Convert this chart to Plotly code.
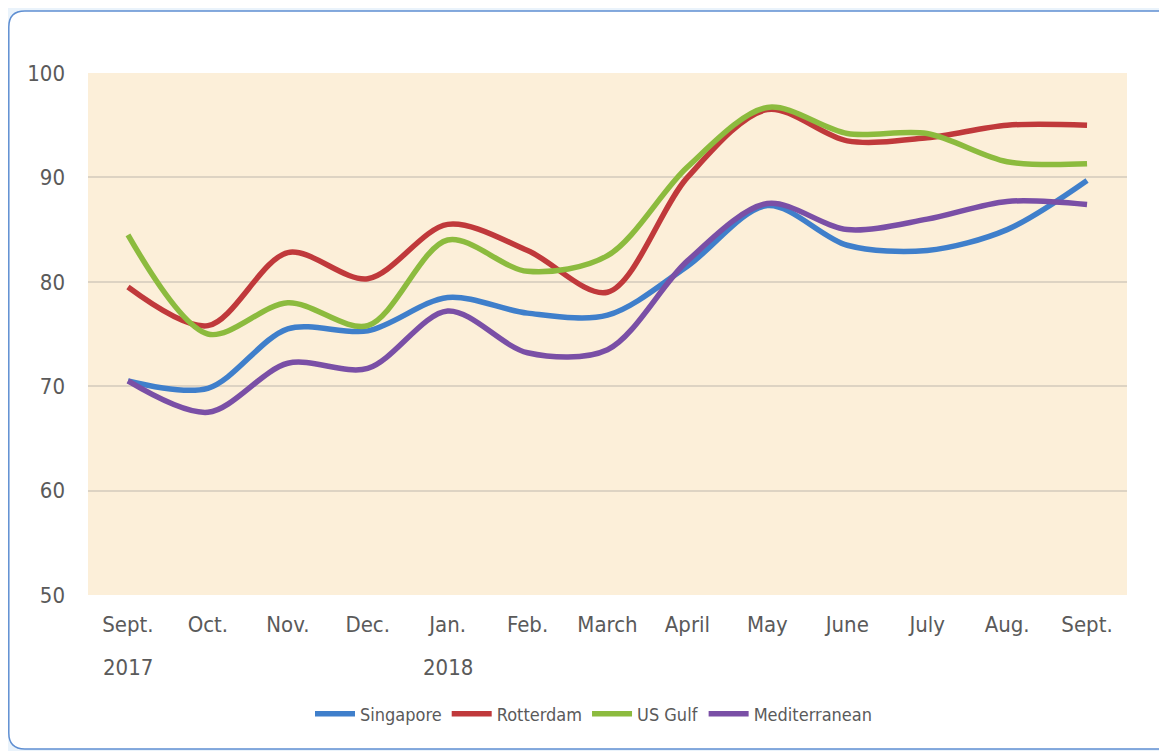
import plotly.graph_objects as go

months = ["Sept. 2017", "Oct.", "Nov.", "Dec.", "Jan. 2018", "Feb.", "March",
          "April", "May", "June", "July", "Aug.", "Sept. 2018"]
tick_text = ["Sept.", "Oct.", "Nov.", "Dec.", "Jan.", "Feb.", "March",
             "April", "May", "June", "July", "Aug.", "Sept."]
year_labels = [("Sept. 2017", "2017"), ("Jan. 2018", "2018")]

singapore = [70.5, 69.8, 75.5, 75.3, 78.5, 77.0, 76.8, 81.5, 87.3, 83.5, 83.0, 85.0, 89.7]
rotterdam = [79.5, 75.8, 82.8, 80.3, 85.5, 83.0, 79.0, 90.0, 96.5, 93.5, 93.8, 95.0, 95.0]
us_gulf = [84.5, 75.0, 78.0, 75.8, 84.0, 81.0, 82.5, 91.0, 96.7, 94.2, 94.2, 91.5, 91.3]
mediterranean = [70.5, 67.5, 72.2, 71.7, 77.2, 73.2, 73.5, 82.0, 87.5, 85.0, 86.0, 87.7, 87.4]

series = [
    ("Singapore", singapore, "#3F7FCB"),
    ("Rotterdam", rotterdam, "#C0393B"),
    ("US Gulf", us_gulf, "#8CBB3E"),
    ("Mediterranean", mediterranean, "#7A4FA6"),
]

FONT = "DejaVu Sans Condensed, Liberation Sans Narrow, Arial Narrow, sans-serif"
TXT = "#5A5A5A"

# page is offset by the 8px body margin
OFF = 8
W, H = 1167 - OFF, 751 - OFF
L, T = 88 - OFF, 73 - OFF
R = W - (1127 - OFF)
B = H - (595 - OFF)
pw, ph = W - L - R, H - T - B

def px(x):
    return (x - OFF - L) / pw

def py(y):
    return (H - B - (y - OFF)) / ph

fig = go.Figure()
for name, vals, col in series:
    fig.add_trace(go.Scatter(
        x=months, y=vals, name=name, mode="lines",
        line=dict(color=col, width=5.5, shape="spline", smoothing=0.9),
    ))

# rounded white panel
r = 16
x0, y0, x1, y1 = 8.8, 11, 1190, 749
path = (f"M {px(x0)},{py(y0 + r)} "
        f"Q {px(x0)},{py(y0)} {px(x0 + r)},{py(y0)} "
        f"L {px(x1)},{py(y0)} L {px(x1)},{py(y1)} "
        f"L {px(x0 + r)},{py(y1)} "
        f"Q {px(x0)},{py(y1)} {px(x0)},{py(y1 - r)} Z")

annotations = [
    dict(x=cat, y=py(667), xref="x", yref="paper", text=yr, showarrow=False,
         font=dict(family=FONT, size=22, color=TXT), xanchor="center", yanchor="middle")
    for cat, yr in year_labels
]

fig.update_layout(
    width=W, height=H,
    margin=dict(l=L, r=R, t=T, b=B),
    paper_bgcolor="#EAF3FB",
    plot_bgcolor="rgba(0,0,0,0)",
    font=dict(family=FONT, color=TXT, size=22),
    shapes=[
        dict(type="path", xref="paper", yref="paper", path=path,
             fillcolor="white", line=dict(color="#5F8FD2", width=1.5), layer="below"),
        dict(type="rect", xref="paper", yref="paper", x0=0, x1=1, y0=0, y1=1,
             fillcolor="#FCEFD9", line=dict(width=0), layer="below"),
    ],
    annotations=annotations,
    xaxis=dict(
        type="category", range=[-0.5, 12.5], showgrid=False, zeroline=False,
        showline=False, ticks="", tickvals=months, ticktext=tick_text,
        tickfont=dict(family=FONT, size=22, color=TXT), ticklabelstandoff=14,
        fixedrange=True,
    ),
    yaxis=dict(
        range=[50, 100], dtick=10, showgrid=True, gridcolor="#DDD3C3", gridwidth=1.5,
        zeroline=False, showline=False, ticks="", ticklabelstandoff=22,
        tickfont=dict(family=FONT, size=22, color=TXT), fixedrange=True,
    ),
    legend=dict(
        orientation="h", x=px(594), xanchor="center", y=py(714), yanchor="middle",
        bgcolor="rgba(0,0,0,0)", font=dict(family=FONT, size=18, color=TXT),
        itemwidth=40, tracegroupgap=0,
    ),
    showlegend=True,
)

fig.write_html("out.html")
